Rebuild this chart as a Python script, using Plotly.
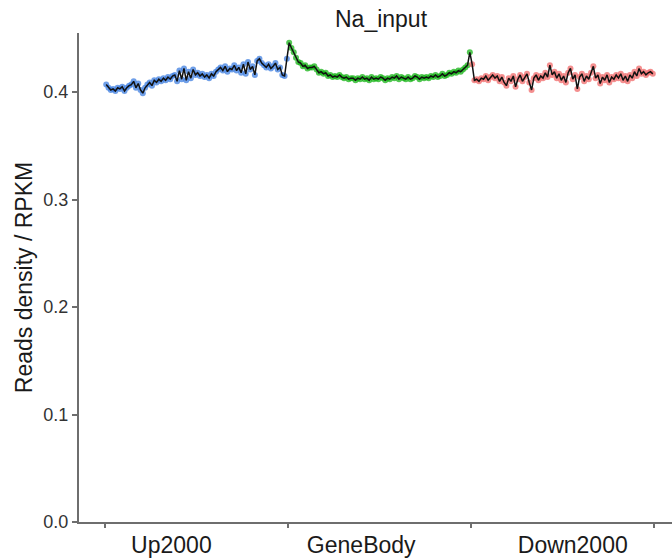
import plotly.graph_objects as go

# Section labels, where they sit, and the boundaries between sections (bin positions)
regions = ["Up2000", "GeneBody", "Down2000"]
region_edges = [0, 80, 160, 240]
region_label_pos = [29, 112, 204.5]
y_ticks = [0.0, 0.1, 0.2, 0.3, 0.4]

# Mean reads density per bin (RPKM)
up2000 = [
    0.407, 0.404, 0.402, 0.403, 0.401, 0.404, 0.403, 0.405, 0.401, 0.404,
    0.406, 0.407, 0.410, 0.404, 0.408, 0.402, 0.399, 0.404, 0.407, 0.409,
    0.406, 0.411, 0.409, 0.412, 0.410, 0.413, 0.411, 0.414, 0.412, 0.415,
    0.416, 0.410, 0.420, 0.412, 0.422, 0.411, 0.419, 0.413, 0.421, 0.416,
    0.418, 0.415, 0.417, 0.414, 0.416, 0.413, 0.417, 0.415, 0.419, 0.421,
    0.423, 0.420, 0.424, 0.419, 0.422, 0.421, 0.425, 0.420, 0.423, 0.418,
    0.426, 0.417, 0.428, 0.421, 0.424, 0.416, 0.429, 0.431, 0.427, 0.425,
    0.423, 0.426, 0.422, 0.424, 0.427, 0.421, 0.423, 0.416, 0.415, 0.431,
]
genebody = [
    0.446, 0.441, 0.437, 0.432, 0.428, 0.427, 0.424, 0.425, 0.422, 0.423,
    0.423, 0.424, 0.421, 0.418, 0.419, 0.417, 0.418, 0.415, 0.416, 0.414,
    0.415, 0.414, 0.416, 0.414, 0.413, 0.414, 0.412, 0.413, 0.413, 0.411,
    0.413, 0.412, 0.414, 0.412, 0.413, 0.411, 0.414, 0.412, 0.413, 0.412,
    0.414, 0.413, 0.411, 0.413, 0.412, 0.414, 0.413, 0.415, 0.412, 0.414,
    0.413, 0.412, 0.414, 0.412, 0.413, 0.415, 0.414, 0.412, 0.414, 0.413,
    0.414, 0.413, 0.415, 0.414, 0.416, 0.414, 0.415, 0.417, 0.415, 0.416,
    0.418, 0.417, 0.419, 0.418, 0.420, 0.419, 0.421, 0.423, 0.425, 0.437,
]
down2000 = [
    0.426, 0.411, 0.412, 0.410, 0.413, 0.412, 0.415, 0.411, 0.414, 0.416,
    0.413, 0.415, 0.410, 0.414, 0.409, 0.406, 0.413, 0.410, 0.415, 0.405,
    0.412, 0.416, 0.410, 0.414, 0.417, 0.409, 0.402, 0.413, 0.416, 0.411,
    0.415, 0.413, 0.418, 0.414, 0.425, 0.416, 0.419, 0.413, 0.417, 0.411,
    0.415, 0.409, 0.418, 0.422, 0.412, 0.416, 0.403, 0.414, 0.417, 0.410,
    0.415, 0.412, 0.418, 0.424, 0.413, 0.416, 0.408, 0.414, 0.411, 0.416,
    0.409, 0.414, 0.412, 0.416, 0.413, 0.417, 0.411, 0.415, 0.410, 0.416,
    0.413, 0.419, 0.415, 0.422, 0.417, 0.419, 0.416, 0.418, 0.419, 0.417,
]

segments = [up2000, genebody, down2000]
seg_colors = ["#3f7fe0", "#18b418", "#f06a6a"]

fig = go.Figure()

all_x, all_y = [], []
for k, (vals, col) in enumerate(zip(segments, seg_colors)):
    xs = [region_edges[k] + i + 0.5 for i in range(len(vals))]
    all_x += xs
    all_y += vals
    fig.add_trace(go.Scatter(
        x=xs, y=vals, mode="markers",
        marker=dict(size=6, color=col, opacity=0.75, line=dict(width=0)),
        hoverinfo="skip", showlegend=False,
    ))

fig.add_trace(go.Scatter(
    x=all_x, y=all_y, mode="lines",
    line=dict(color="#111111", width=1.5),
    showlegend=False,
))

# invisible trace carrying the region label axis
fig.add_trace(go.Scatter(x=[region_label_pos[0]], y=[0.2], xaxis="x2",
                         mode="markers", marker=dict(opacity=0),
                         hoverinfo="skip", showlegend=False))

axis_col = "#6e6e6e"
font_family = "Liberation Sans, Arial, sans-serif"
x_range = [-11.4, 247.9]

fig.update_layout(
    width=672, height=558,
    margin=dict(l=79, r=0, t=33, b=34),
    paper_bgcolor="white", plot_bgcolor="white",
    font=dict(family=font_family, color="#222222"),
    title=dict(text="Na_input", x=0.567, xanchor="center", y=0.966,
               yanchor="middle", font=dict(size=23, color="#1a1a1a")),
    xaxis=dict(
        range=x_range, tickmode="array", tickvals=region_edges,
        ticktext=["", "", "", ""], ticks="outside", ticklen=4, tickwidth=1.5,
        tickcolor=axis_col, showline=True, linecolor=axis_col, linewidth=2,
        showgrid=False, zeroline=False,
    ),
    xaxis2=dict(
        range=x_range, overlaying="x", anchor="y", side="bottom",
        tickmode="array", tickvals=region_label_pos, ticktext=regions,
        ticks="", showline=False, showgrid=False, zeroline=False,
        tickfont=dict(size=23, color="#1a1a1a"), ticklabelstandoff=7,
    ),
    yaxis=dict(
        range=[0, 0.455], tickmode="array", tickvals=y_ticks,
        ticktext=[f"{v:.1f}" for v in y_ticks],
        ticks="outside", ticklen=5, tickwidth=1.5, tickcolor=axis_col,
        showline=True, linecolor=axis_col, linewidth=2,
        showgrid=False, zeroline=False,
        tickfont=dict(size=18, color="#333333"),
        title=dict(text="Reads density / RPKM", standoff=4,
                   font=dict(size=23, color="#1a1a1a")),
    ),
)

fig.write_html("out.html")
